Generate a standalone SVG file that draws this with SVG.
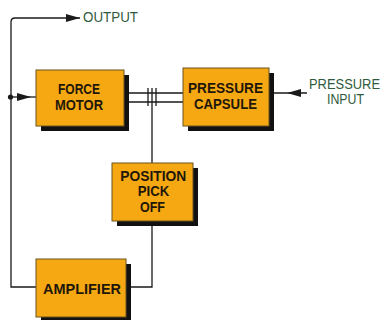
<svg xmlns="http://www.w3.org/2000/svg" width="385" height="320" viewBox="0 0 385 320">
  <style>
    .box { fill: #F6A812; stroke: #6b5420; stroke-width: 1; }
    .shadow { fill: #111; }
    .lbl { font-family: "Liberation Sans", Arial, sans-serif; font-weight: bold; font-size: 15px; fill: #1f170a; text-anchor: middle; }
    .ext { font-family: "Liberation Sans", Arial, sans-serif; font-size: 14px; fill: #2f5a3c; }
    .wire { fill: none; stroke: #1a1a1a; stroke-width: 1.3; }
  </style>
  <defs>
    <marker id="arr" viewBox="0 0 14 8" refX="14" refY="4" markerWidth="14" markerHeight="8" markerUnits="userSpaceOnUse" orient="auto">
      <path d="M0,0 L14,4 L0,8 Z" fill="#1a1a1a"/>
    </marker>
  </defs>
  <rect width="385" height="320" fill="#fff"/>

  <g id="connectors">
    <path class="wire" d="M36,287 H11 V22 Q11,18 15,18 H80" marker-end="url(#arr)"/>
    <circle cx="10.5" cy="97" r="2.6" fill="#1a1a1a"/>
    <path class="wire" d="M11,97 H31 H36" marker-mid="url(#arr)"/>
    <path class="wire" d="M124,93 H183 M124,102 H183"/>
    <path class="wire" d="M148,88 V106 M156,88 V106"/>
    <path class="wire" d="M152,88 V163 M152,221 V287 H126"/>
    <path class="wire" d="M307,93 H287 H274" marker-mid="url(#arr)"/>
  </g>

  <g id="force-motor">
    <rect class="shadow" x="41" y="75" width="88" height="56"/>
    <rect class="box" x="36" y="70" width="88" height="56"/>
    <text class="lbl" x="79" y="94" textLength="42" lengthAdjust="spacingAndGlyphs">FORCE</text>
    <text class="lbl" x="79" y="109.5" textLength="48" lengthAdjust="spacingAndGlyphs">MOTOR</text>
  </g>

  <g id="pressure-capsule">
    <rect class="shadow" x="188" y="73" width="86" height="58"/>
    <rect class="box" x="183" y="68" width="86" height="58"/>
    <text class="lbl" x="225.5" y="93" textLength="75" lengthAdjust="spacingAndGlyphs">PRESSURE</text>
    <text class="lbl" x="225.5" y="108.5" textLength="63" lengthAdjust="spacingAndGlyphs">CAPSULE</text>
  </g>

  <g id="position-pick-off">
    <rect class="shadow" x="117" y="168" width="81" height="58"/>
    <rect class="box" x="112" y="163" width="81" height="58"/>
    <text class="lbl" x="153.3" y="180.5" textLength="66" lengthAdjust="spacingAndGlyphs">POSITION</text>
    <text class="lbl" x="153.5" y="196" textLength="31.5" lengthAdjust="spacingAndGlyphs">PICK</text>
    <text class="lbl" x="152.5" y="211.5" textLength="25" lengthAdjust="spacingAndGlyphs">OFF</text>
  </g>

  <g id="amplifier">
    <rect class="shadow" x="41" y="264" width="90" height="58"/>
    <rect class="box" x="36" y="259" width="90" height="58"/>
    <text class="lbl" x="82" y="293.5" textLength="78" lengthAdjust="spacingAndGlyphs">AMPLIFIER</text>
  </g>

  <g id="labels">
    <text class="ext" x="83" y="22" textLength="55" lengthAdjust="spacingAndGlyphs">OUTPUT</text>
    <text class="ext" x="309" y="89" textLength="71" lengthAdjust="spacingAndGlyphs">PRESSURE</text>
    <text class="ext" x="327" y="104" textLength="37" lengthAdjust="spacingAndGlyphs">INPUT</text>
  </g>
</svg>
